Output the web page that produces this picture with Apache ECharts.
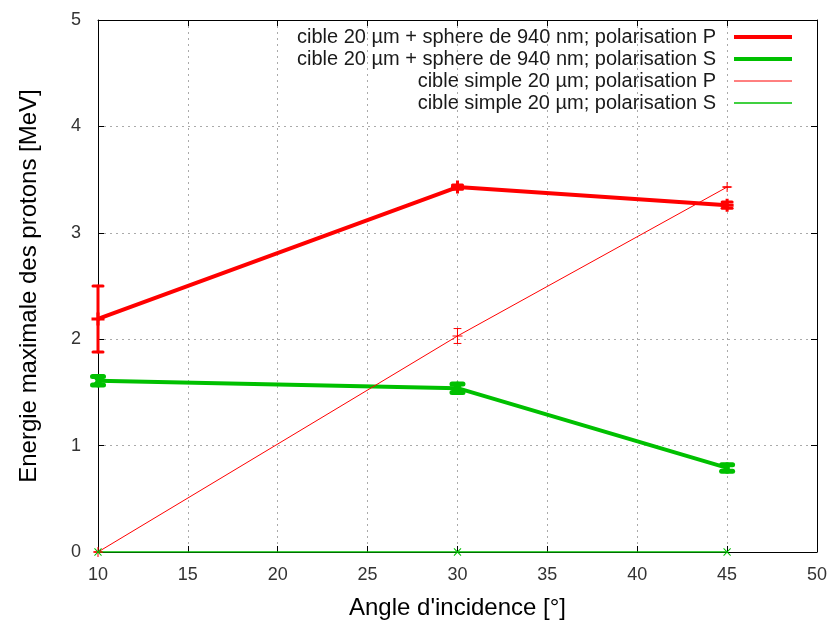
<!DOCTYPE html>
<html><head><meta charset="utf-8">
<script src="https://cdn.jsdelivr.net/npm/echarts@6/dist/echarts.min.js"></script>
<style>html,body{margin:0;padding:0;background:#fff}#c{width:830px;height:628px}</style>
</head><body><div id="c"></div>
<script>
// ---- data ----
const angles = [10, 30, 45];
const seriesNames = [
  'cible 20 µm + sphere de 940 nm; polarisation P',
  'cible 20 µm + sphere de 940 nm; polarisation S',
  'cible simple 20 µm; polarisation P',
  'cible simple 20 µm; polarisation S'
];
const sphereP      = [2.19, 3.43, 3.26];
const sphereP_low  = [1.88, 3.41, 3.23];
const sphereP_high = [2.50, 3.45, 3.29];
const sphereS      = [1.61, 1.54, 0.79];
const sphereS_low  = [1.57, 1.50, 0.76];
const sphereS_high = [1.65, 1.58, 0.82];
const simpleP      = [0, 2.03, 3.43];
const simpleP_low  = [0, 1.96, 3.43];
const simpleP_high = [0, 2.10, 3.43];
const simpleS      = [0, 0, 0];
const xTicks = [10, 15, 20, 25, 30, 35, 40, 45, 50];
const yTicks = [0, 1, 2, 3, 4, 5];
const xTitle = "Angle d'incidence [°]";
const yTitle = 'Energie maximale des protons [MeV]';

// ---- styles ----
const RED = '#ff0000', GREEN = '#00c000';
const FONT = 'Liberation Sans, Arial, sans-serif';
const plusThick = 'path://M5,0h3v5h5v3h-5v5h-3v-5h-5v-3h5z';
const plusThin = 'path://M4.5,0h1v4.5h4.5v1h-4.5v4.5h-1v-4.5h-4.5v-1h4.5z';

function pairs(ys) { return angles.map((a, i) => [a, ys[i]]); }
function errSeries(low, high, color, width, cap) {
  return {
    type: 'custom', silent: true, z: 4,
    data: angles.map((a, i) => [a, low[i], high[i]]),
    encode: { x: 0, y: [1, 2] },
    clip: false,
    renderItem(params, api) {
      const x = api.value(0);
      const lo = api.coord([x, api.value(1)]);
      const hi = api.coord([x, api.value(2)]);
      const w = cap / 2;
      const st = { stroke: color, lineWidth: width, lineCap: 'round' };
      return { type: 'group', children: [
        { type: 'line', shape: { x1: lo[0], y1: lo[1], x2: hi[0], y2: hi[1] }, style: st },
        { type: 'line', shape: { x1: lo[0] - w, y1: lo[1], x2: lo[0] + w, y2: lo[1] }, style: st },
        { type: 'line', shape: { x1: hi[0] - w, y1: hi[1], x2: hi[0] + w, y2: hi[1] }, style: st }
      ]};
    }
  };
}

const grid = { left: 98, right: 12, top: 20, bottom: 76 };
const gridLine = { show: true, lineStyle: { color: '#aaaaaa', type: [2, 4], width: 1 } };
const tick = { show: true, inside: true, length: 6, lineStyle: { color: '#000' } };
const axLine = { show: true, onZero: false, lineStyle: { color: '#000', width: 1 } };

const option = {
  animation: false,
  backgroundColor: '#fff',
  grid: grid,
  legend: {
    orient: 'vertical', right: 31, top: 22, align: 'right',
    itemWidth: 58, itemHeight: 12, itemGap: 2,
    selectedMode: false,
    data: seriesNames,
    itemStyle: { opacity: 0 },
    lineStyle: { width: 'inherit' },
    textStyle: { fontFamily: FONT, fontSize: 20, color: '#1a1a1a', padding: [0, 13, 0, 0] }
  },
  xAxis: [{
    type: 'value', min: xTicks[0], max: xTicks[xTicks.length - 1], interval: 5,
    axisLine: axLine, axisTick: tick, splitLine: gridLine,
    axisLabel: { fontFamily: FONT, fontSize: 18, color: '#333', margin: 14 },
    name: xTitle, nameLocation: 'middle', nameGap: 44,
    nameTextStyle: { fontFamily: FONT, fontSize: 24, color: '#000' }
  }, {
    type: 'value', position: 'top', min: xTicks[0], max: xTicks[xTicks.length - 1], interval: 5,
    axisLine: axLine, axisTick: tick, splitLine: { show: false }, axisLabel: { show: false }
  }],
  yAxis: [{
    type: 'value', min: yTicks[0], max: yTicks[yTicks.length - 1], interval: 1,
    axisLine: axLine, axisTick: tick, splitLine: gridLine,
    axisLabel: { fontFamily: FONT, fontSize: 18, color: '#333', margin: 17 },
    name: yTitle, nameLocation: 'middle', nameGap: 57,
    nameTextStyle: { fontFamily: FONT, fontSize: 24, color: '#000' }
  }, {
    type: 'value', position: 'right', min: yTicks[0], max: yTicks[yTicks.length - 1], interval: 1,
    axisLine: axLine, axisTick: tick, splitLine: { show: false }, axisLabel: { show: false }
  }],
  series: [
    { name: seriesNames[0], type: 'line', data: pairs(sphereP), z: 5,
      lineStyle: { color: RED, width: 4 }, itemStyle: { color: RED },
      symbol: plusThick, symbolSize: 13, showSymbol: true },
    { name: seriesNames[1], type: 'line', data: pairs(sphereS), z: 5,
      lineStyle: { color: GREEN, width: 4 }, itemStyle: { color: GREEN },
      symbol: plusThick, symbolSize: 12, symbolRotate: 45, showSymbol: true },
    { name: seriesNames[2], type: 'line', data: pairs(simpleP), z: 5,
      lineStyle: { color: RED, width: 1 }, itemStyle: { color: RED },
      symbol: plusThin, symbolSize: 10, showSymbol: true },
    { name: seriesNames[3], type: 'line', data: pairs(simpleS), z: 5,
      lineStyle: { color: GREEN, width: 1.5 }, itemStyle: { color: GREEN },
      symbol: plusThin, symbolSize: 10, symbolRotate: 45, showSymbol: true },
    errSeries(sphereP_low, sphereP_high, RED, 3, 10),
    errSeries(sphereS_low, sphereS_high, GREEN, 5, 11),
    errSeries(simpleP_low, simpleP_high, RED, 1, 7)
  ]
};
const chart = echarts.init(document.getElementById('c'), null, { renderer: 'canvas' });
chart.setOption(option);
</script>
</body></html>
